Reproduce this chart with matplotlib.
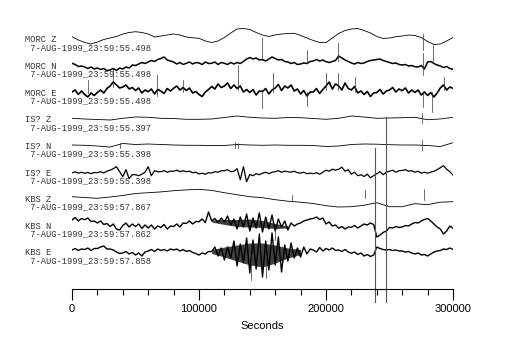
import numpy as np
import matplotlib
matplotlib.use("Agg")
import matplotlib.pyplot as plt

# Trace labels and start times
names = ["MORC Z", "MORC N", "MORC E", "IS? Z", "IS? N", "IS? E", "KBS Z", "KBS N", "KBS E"]
starts = ["7-AUG-1999_23:59:55.498", "7-AUG-1999_23:59:55.498", "7-AUG-1999_23:59:55.498",
          "7-AUG-1999_23:59:55.397", "7-AUG-1999_23:59:55.398", "7-AUG-1999_23:59:55.398",
          "7-AUG-1999_23:59:57.867", "7-AUG-1999_23:59:57.862", "7-AUG-1999_23:59:57.858"]

# sample times (seconds)
t_coarse = np.arange(0, 300001, 10000)
t_mid = np.arange(0, 300001, 5000)
t_fine = np.arange(0, 300001, 2500)

# smooth traces (amplitude in px, up = positive)
morc_z = [0.3, -3, -5.5, -7, -5, -2.5, -1, 0.5, 3, 4.5, 5.3, 4.5, 3, 0, 1, 2,
          3, 2, 0, -0.8, -1.3, -4, -5.5, -4, -0.5, 4, 8, 8.5, 7.5, 4.5, 2, 0.5,
          2, 3, 3.5, 3.7, 1.5, -1, -3.5, -5.5, -5.7, -1, 3.5, 6.5, 8, 8.5, 6.5, 4,
          0.5, -1.5, -1, 0.3, 1, 2, 1.5, -0.5, -4.5, -7.5, -7, -4, -0.5]
is_z = [-0.3, -1, -1.5, -2, -0.3, 1, 0.7, -0.3, -0.5, -1.3, -1.3, -1, 0.5, 2, 0.7, 0,
        -0.3, 0.5, 0.3, -0.5, -1.3, -0.3, 2, 1, -0.3, 0, 0.3, 0.7, -1.7, -1, 0.7]
is_n = [0, -0.3, -1, -2, 1.5, 0.5, 1, 0.5, 0, -0.3, -0.3, -0.5, -0.5, 0.5, 0, -0.3,
        0, -0.3, -0.3, -0.5, -1.5, -1, 0.5, 1, 0.8, 0.3, 0, 0, -0.5, -1.5, 2.3]
kbs_z = [0, -0.8, -1.6, -0.3, 1.2, 3.2, 4, 4.8, 6, 6.8, 7.4, 6.3, 4, 2, 0, -1,
         -3, -4.5, -5.5, -6.8, -9, -10.3, -10, -8.5, -6, -10, -10, -7, -8, -5.5, -5]

# burst envelopes (trend and half-width every 10000 s, 0 = no burst)
kbs_n_trend = [0, 0.3, -3, -6.5, -5.5, -6.5, -8, -7.5, -6.5, -3.5, -1.7, -1, -2, -3, -3, -4,
               -6, -7, -3, 1.5, -4, -8.3, -7.3, -4, -17, -7.5, -7, -2.5, 1.5, -9, -8.3]
kbs_n_env = [0, 0, 0, 0, 0, 0, 0, 0, 0, 0, 0, 1, 2.5, 3.5, 4, 3.5,
             2.5, 1, 0, 0, 0, 0, 0, 0, 0, 0, 0, 0, 0, 0, 0]
kbs_e_trend = [0, 0.5, 1.5, 1, -3, -5, -1, -0.5, 0, -1.5, -5, -1.5, -2, -3, -4, -5,
               -4, -3, -2, 0, 1.5, 0, -3.3, -6, 3, 0.5, -1, -4, -6, -0.5, 0.7]
kbs_e_env = [0, 0, 0, 0, 0, 0, 0, 0, 0, 0, 0, 2, 5, 8, 11, 12,
             9, 5, 2.5, 0, 0, 0, 0, 0, 0, 0, 0, 0, 0, 0, 0]

# noisy traces, one value every 2500 s
morc_n = [-0.3, -1.5, -3.5, -3, -4, -5.5, -4, -6, -5, -6.5, -5.5, -7.5, -7, -5.5, -7.5, -5,
          -6, -4, -5, -2, -2.5, -1, 0.5, -0.5, 1, 2.5, 1.5, 3.5, 4.5, 6, 3, 2,
          1, -1, 0.5, -1.5, -0.3, 1, -1, 0.5, 0, -1.5, 1, -0.5, -0.3, 1, -1.5, 0.5,
          -0.3, -1.5, 0.5, -1, 0.5, -0.5, 1.5, 4, 5.5, 4, 5, 3, 3.5, 2, 4, 6,
          4.5, 3, 3.5, 1.5, 1, -0.5, 0.5, -1.5, -1, 0, -0.5, 1.5, 2, 3.5, 2, 3,
          1.3, 0.5, 1.5, 2.5, 7, 5, 3, 1.5, 0, -1, 0.5, -0.5, 0, 1.5, 2.5, 3,
          3.5, 4, 2.5, 1.5, 0.5, -0.5, 0, -1.5, -2, -1.5, -3, -2.5, -3.7, -4, -2.5, -6,
          1, 1.5, -0.5, -2, -3, -4.5, -3.5, -5.5, -6.3]
morc_e = [0, 2, -2.5, 1, -2.5, -5, -1, -3.5, -0.5, 2, -1, 3.5, 6, 10, 7, 4,
          5, 7, 3, 4.5, 1.5, 4, -1, 2, 0.3, 3, -2, 2.5, 1, -1.5, 3.5, 1,
          3.7, 6, 2, 4.5, 1.5, 4, -1, 0.5, -2.5, -4.5, 0, 2.5, 5.5, 3, 8, 4.5,
          6, 9, 3.5, 7, 3.5, 6, 0, 2.5, -0.5, 2.5, -3, 1, 0.5, 3.5, -2, 2,
          4, 7.5, 1.5, 6, 4, 7, 1, 3, -2, 1.5, -4, 0, 0, 3.5, -1.5, 2.5,
          6, 10, 3, 8, 6, 2, 9, 3.5, 2, 5.5, -1, 1, -2.5, 0.5, -4.5, -1,
          -0.5, 2.5, -2, 1, 2, 4.5, 0, 3, 1.3, 4, -1, 2, -0.5, 2, -3, 0,
          -3.5, -0.5, -5, -1, 4, 7, 2, 5, 3.7]
is_e = [0, 0.8, -0.5, 0.5, -0.6, 0.3, -1, 0.2, 0, 1, -0.3, 1.5, 2.5, 4, 6, 1,
        -4, 3, -6, -2, -2, -3, -1.5, 0.5, 6, -3, 2, 1, 1, 2, 0.5, 1.5,
        1.5, 2.5, 1, 2, 1, 1.5, 0, 0.5, -1.3, -0.5, -1.5, 0, -0.3, 1, 0.5, 2,
        2, 3, 1, 1.5, 4, -7, 6, -9, -1.8, -3, -1, -2, -0.5, 0.5, -1, 0.5,
        1, 2, 0.5, 1.5, 1, 0.5, 1.5, 0, -0.5, 0.5, -1, -0.5, -1, 0, -1.5, 0.5,
        2.5, 1.5, 3.5, 2.5, 3.5, 5.5, 1.5, 3, -1.5, 0.5, -3, -2, -3.8, -1.5, -5, -3,
        -1, 1, -2, 0.5, 1.5, 2.5, 0.5, 2, 2.2, 3, 1.5, 2, 0.5, 1.5, -0.5, 0.5,
        -0.5, 0.5, 1.5, 3, 5, 7, 3.5, 1, -2.3]
kbs_n = [0, 2.5, -1, 1.5, 0.3, 2, -1.5, -1, -3, -1, -4.5, -3.5, -6.5, -4, -9, -10,
         -5.5, -3, -7, -4, -6.5, -4, -8.5, -5, -8, -5, -9, -6, -7.5, -4.5, -9, -6,
         -6.5, -4, -7, -3, -3.5, -1, -4, -1.5, -1.7, 1, -2.5, 8, -1, 1.5, -2.5, 2,
         -2, 4, -5, 1, -9, 3, -7, 6, -11, 2, -8, 7, -12, 3, -9, 5,
         -11, 1, -7, -1, -10, -3, -6, -4, -3, -1, 0, 1, 1.5, 3, 0.5, 2,
         -4, -2, -6, -5, -8.3, -6.5, -9, -7, -7.3, -5.5, -8, -6, -4, -5, -3, -4.5,
         -17, -15, -12.5, -11, -7.5, -8, -6.5, -7.5, -7, -5.5, -6, -4, -2.5, -3, -1, 0.5,
         1.5, -1, -4, -7, -9, -14, -11, -6, -8.3]
kbs_e = [0, 1.5, -0.5, 1, 0.5, 2, -0.5, 1.5, 1.5, 3, 4, 1, 1, 0, -2, -3.5,
         -3, -1.5, -4, -2.5, -5, -3, -6, -2, -1, 0.5, -1.5, 1, -0.5, 0.5, -1, 1,
         0, 1, -1, 0.5, -1.5, -0.5, -2.5, -3.5, -5, -3, -4, -1.5, -1.5, 3, -6, 2,
         -10, 3, -8, 9, -16, 6, -13, 12, -23, 10, -19, 16, -27, 9, -20, 17,
         -15, 13, -22, 5, -11, 7, -8, 2, -7, 3, -4, 1, 0, -2, 2.5, -1,
         1.5, 0, 2, -0.5, 0, -1.5, 0.5, -2, -3.3, -2, -4.5, -3, -6, -4.5, -6.5, -5,
         3, 1.5, 0.5, 0, 0.5, -0.5, 0, -1, -1, -2, -1.5, -3, -4, -3, -5, -4.5,
         -6, -4, -2, -1, -0.5, 1, 0.5, 2, 0.7]

# single-sample spikes: (trace index, time, low, high)
spikes = [(0, 276600, -13, 3),
          (1, 32500, -23.7, -6), (1, 149400, 3, 24.7), (1, 184800, 0, 13), (1, 209200, 2, 19.7),
          (1, 276600, -12, 10), (1, 284500, 0, 18),
          (2, 12400, -1, 12), (2, 66700, -4, 17), (2, 87200, 0, 12), (2, 130500, 2, 27),
          (2, 149400, -16, 2), (2, 158500, 0, 18.7), (2, 184800, -14, 0), (2, 199800, 2, 18.7),
          (2, 209200, 2, 18.7), (2, 222800, 0, 15.3), (2, 276600, -14.7, 0),
          (2, 283200, -19.7, 0), (2, 293100, 2, 15.3),
          (3, 275800, -5, 5),
          (4, 38000, -3, 2.5), (4, 128000, -3.3, 3.3), (4, 131000, -3, 2), (4, 275400, -5, 5),
          (6, 173000, -3, 1.7), (6, 230700, -1, 6.5), (6, 277200, -3, 8),
          (8, 141000, -30, -5), (8, 153000, -28, -5), (8, 160000, 10, 20)]

# phase marker lines: (time, top pixel row)
markers = [(238300, 148), (247200, 117)]

# layout (pixel rows of trace baselines / labels), line widths
baselines = [37, 63, 92, 118, 145, 172.7, 196.7, 220, 250]
label_rows = [40 + 26.6 * i for i in range(9)]
widths = [0.6, 1.1, 1.2, 0.6, 0.6, 0.9, 0.6, 1.0, 1.0]

W, H = 515, 346
fig = plt.figure(figsize=(W / 100, H / 100), dpi=100)
ax = fig.add_axes([72 / W, 57 / H, 381 / W, 269 / H])

bursts = {7: (kbs_n_trend, kbs_n_env), 8: (kbs_e_trend, kbs_e_env)}
traces = [(t_mid, morc_z), (t_fine, morc_n), (t_fine, morc_e),
          (t_coarse, is_z), (t_coarse, is_n), (t_fine, is_e),
          (t_coarse, kbs_z), (t_fine, kbs_n), (t_fine, kbs_e)]

for i, (t, v) in enumerate(traces):
    if i in bursts:
        tr, env = np.array(bursts[i][0]), np.array(bursts[i][1])
        ax.fill_between(t_coarse, tr - env - baselines[i], tr + env - baselines[i],
                        where=env > 0, color="#202020", alpha=0.85, lw=0)
    ax.plot(t, np.array(v) - baselines[i], color="black", lw=widths[i])

for i, ts, lo, hi in spikes:
    ax.plot([ts, ts], [lo - baselines[i], hi - baselines[i]], color="#333333", lw=0.5)

for ts, top in markers:
    ax.plot([ts, ts], [-top, -302], color="#555555", lw=0.8, clip_on=False)

for i in range(9):
    fig.text(25 / W, 1 - label_rows[i] / H, names[i], family="Liberation Mono",
             fontsize=6.3, color="#333333", va="center")
    fig.text(25 / W, 1 - (label_rows[i] + 7.5) / H, " " + starts[i], family="Liberation Mono",
             fontsize=6.3, color="#333333", va="center")

ax.set_xlim(0, 300000)
ax.set_ylim(-289, -20)
for s in ["top", "left", "right"]:
    ax.spines[s].set_visible(False)
ax.spines["bottom"].set_linewidth(0.8)
ax.set_yticks([])
ax.set_xticks([0, 100000, 200000, 300000])
ax.set_xticks(np.arange(0, 300001, 20000), minor=True)
ax.tick_params(axis="x", which="major", direction="out", length=8, width=0.8, pad=3,
               labelsize=8)
ax.tick_params(axis="x", which="minor", direction="out", length=4.3, width=0.8)
for lab in ax.get_xticklabels():
    lab.set_family("Liberation Sans")
ax.set_xlabel("Seconds", family="Liberation Sans", fontsize=8, labelpad=5)

fig.savefig("out.png", dpi=100)
